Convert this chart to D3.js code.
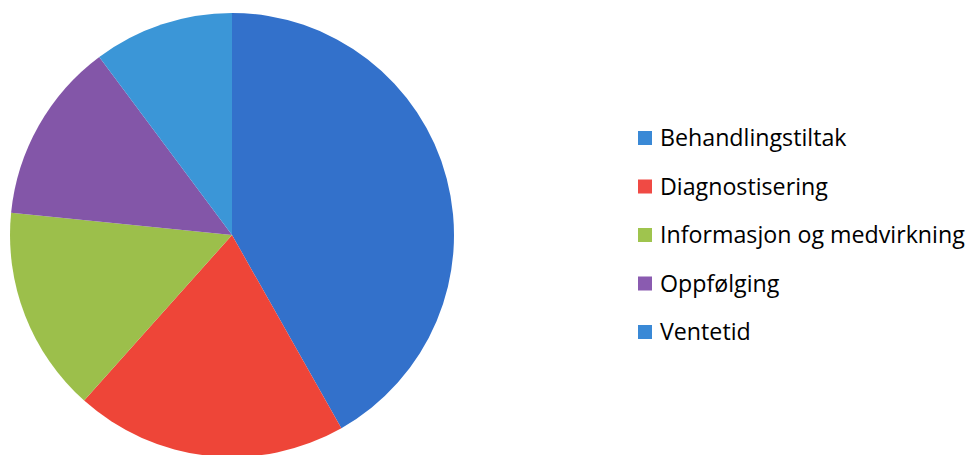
<!DOCTYPE html>
<html>
<head>
<meta charset="utf-8">
<script src="https://cdn.jsdelivr.net/npm/d3@7"></script>
<style>
  html, body { margin: 0; padding: 0; background: #fff; }
  svg { display: block; }
</style>
</head>
<body>
<svg id="chart" width="971" height="455"></svg>
<script>
// Share of comments by theme (percent)
const categories = ["Behandlingstiltak", "Diagnostisering", "Informasjon og medvirkning", "Oppfølging", "Ventetid"];
const values = [41.8, 19.8, 15.0, 13.2, 10.2];
const sliceColors = ["#3371cb", "#ee4538", "#9cbf4b", "#8356a8", "#3b96d7"];
const legendColors = ["#3a89d6", "#f04a44", "#9fc44e", "#8a5bb0", "#3a89d6"];

const svg = d3.select("#chart");

const cx = 232, cy = 235, r = 222;

const data = categories.map((c, i) => ({ name: c, value: values[i], i }));

const pie = d3.pie().sort(null).value(d => d.value);
const arc = d3.arc().innerRadius(0).outerRadius(r);

svg.append("g")
  .attr("transform", `translate(${cx},${cy})`)
  .selectAll("path")
  .data(pie(data))
  .join("path")
  .attr("d", arc)
  .attr("fill", d => sliceColors[d.data.i]);

// Legend
const legendX = 638, legendY0 = 138, rowGap = 48.5, sw = 14;
const lg = svg.append("g");
const rows = lg.selectAll("g")
  .data(data)
  .join("g")
  .attr("transform", (d, i) => `translate(${legendX},${legendY0 + i * rowGap})`);

rows.append("rect")
  .attr("x", 0).attr("y", -sw / 2)
  .attr("width", sw).attr("height", sw)
  .attr("fill", d => legendColors[d.i]);

const labels = rows.append("text")
  .attr("x", 22)
  .attr("y", 0)
  .attr("dy", "0.36em")
  .attr("font-family", "'Open Sans', sans-serif")
  .attr("font-size", 21)
  .attr("fill", "#000")
  .style("font-variant-ligatures", "none")
  .text(d => d.name);

// Size the legend text so the longest label spans the available width
const longest = d3.max(labels.nodes(), n => n.getComputedTextLength());
const fs = 21 * 305 / longest;
labels.attr("font-size", fs);
</script>
</body>
</html>
